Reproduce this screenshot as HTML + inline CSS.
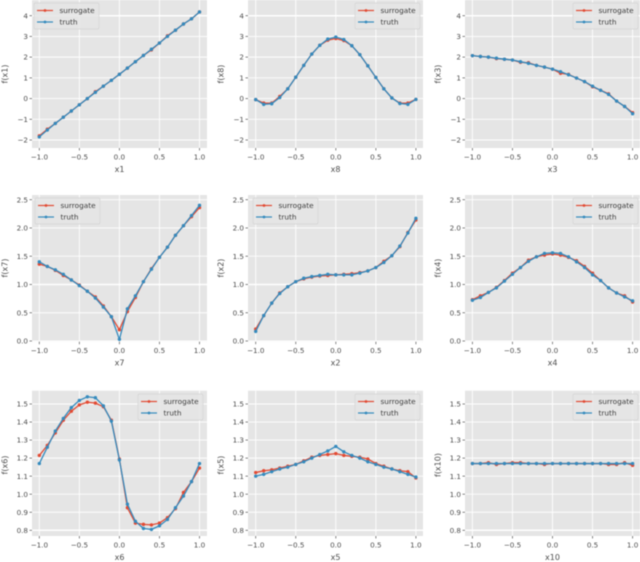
<!DOCTYPE html>
<html>
<head>
<meta charset="utf-8">
<title>Surrogate vs truth partial dependence</title>
<style>
html,body{margin:0;padding:0;background:#fff;width:640px;height:562px;overflow:hidden}
svg{display:block;filter:blur(0.4px)}
text{font-family:"DejaVu Sans","Liberation Sans",sans-serif;fill:#4d4d4d}
</style>
</head>
<body>
<svg id="chart" xmlns="http://www.w3.org/2000/svg" width="640" height="562" viewBox="0 0 640 562"></svg>
<script>
const xGrid = [-1,-0.9,-0.8,-0.7,-0.6,-0.5,-0.4,-0.3,-0.2,-0.1,0,0.1,0.2,0.3,0.4,0.5,0.6,0.7,0.8,0.9,1];
const xTickLabels = ['-1.0','-0.5','0.0','0.5','1.0'];
const yTicksRow1 = ['-2','-1','0','1','2','3','4'];
const yTicksRow2 = ['0.0','0.5','1.0','1.5','2.0','2.5'];
const yTicksRow3 = ['0.8','0.9','1.0','1.1','1.2','1.3','1.4','1.5'];

const truthX1 = [-1.85,-1.52,-1.2,-0.9,-0.6,-0.3,0,0.3,0.6,0.88,1.17,1.47,1.78,2.08,2.38,2.68,3,3.3,3.6,3.85,4.18];
const surrogateX1 = [-1.8,-1.48,-1.2,-0.9,-0.6,-0.3,0,0.33,0.6,0.88,1.17,1.47,1.78,2.08,2.35,2.68,3.03,3.3,3.6,3.85,4.18];
const truthX8 = [-0.05,-0.28,-0.25,0.05,0.47,1.03,1.6,2.15,2.57,2.87,2.97,2.85,2.55,2.12,1.58,1.02,0.47,0.03,-0.24,-0.28,-0.04];
const surrogateX8 = [-0.05,-0.22,-0.22,0.1,0.47,1.03,1.6,2.15,2.57,2.82,2.9,2.8,2.55,2.12,1.58,1.02,0.47,0.03,-0.22,-0.22,-0.04];
const truthX3 = [2.07,2.03,2,1.95,1.9,1.86,1.78,1.7,1.6,1.52,1.42,1.3,1.15,0.99,0.82,0.6,0.4,0.2,-0.12,-0.38,-0.73];
const surrogateX3 = [2.07,2.03,2,1.93,1.9,1.86,1.75,1.73,1.6,1.52,1.42,1.22,1.17,0.99,0.82,0.57,0.4,0.23,-0.12,-0.38,-0.68];
const truthX7 = [1.4,1.32,1.26,1.18,1.08,0.98,0.88,0.76,0.6,0.43,0.03,0.57,0.8,1.05,1.27,1.48,1.66,1.87,2.04,2.22,2.4];
const surrogateX7 = [1.36,1.32,1.25,1.16,1.08,0.99,0.88,0.78,0.62,0.43,0.2,0.52,0.77,1.05,1.28,1.48,1.66,1.87,2.04,2.2,2.36];
const truthX2 = [0.17,0.45,0.67,0.84,0.96,1.05,1.11,1.14,1.16,1.18,1.17,1.17,1.17,1.2,1.24,1.3,1.39,1.51,1.68,1.91,2.17];
const surrogateX2 = [0.21,0.45,0.67,0.85,0.96,1.05,1.1,1.13,1.15,1.16,1.17,1.18,1.19,1.21,1.24,1.3,1.41,1.51,1.67,1.92,2.14];
const truthX4 = [0.72,0.77,0.86,0.94,1.06,1.18,1.3,1.41,1.49,1.55,1.56,1.55,1.49,1.4,1.3,1.17,1.07,0.94,0.85,0.78,0.71];
const surrogateX4 = [0.73,0.8,0.86,0.95,1.07,1.2,1.3,1.43,1.49,1.52,1.54,1.52,1.48,1.42,1.32,1.2,1.07,0.94,0.85,0.8,0.69];
const truthX6 = [1.17,1.26,1.35,1.42,1.48,1.52,1.54,1.535,1.49,1.405,1.19,0.945,0.85,0.81,0.805,0.825,0.86,0.925,0.99,1.07,1.17];
const surrogateX6 = [1.215,1.27,1.34,1.41,1.46,1.495,1.51,1.505,1.485,1.41,1.195,0.925,0.84,0.833,0.83,0.84,0.87,0.92,1.01,1.07,1.145];
const truthX5 = [1.1,1.11,1.125,1.14,1.15,1.165,1.18,1.2,1.22,1.24,1.265,1.235,1.215,1.2,1.18,1.165,1.15,1.14,1.125,1.11,1.095];
const surrogateX5 = [1.12,1.13,1.135,1.145,1.155,1.165,1.185,1.205,1.215,1.22,1.225,1.215,1.21,1.205,1.195,1.17,1.155,1.14,1.13,1.125,1.09];
const truthX10 = [1.17,1.17,1.17,1.17,1.17,1.17,1.17,1.17,1.17,1.17,1.17,1.17,1.17,1.17,1.17,1.17,1.17,1.17,1.17,1.17,1.17];
const surrogateX10 = [1.17,1.17,1.175,1.165,1.17,1.175,1.175,1.17,1.17,1.165,1.17,1.17,1.17,1.17,1.17,1.17,1.17,1.165,1.165,1.175,1.16];

const NS = 'http://www.w3.org/2000/svg';
const svg = document.getElementById('chart');
const SURROGATE = '#E24A33';
const TRUTH = '#348ABD';

function make(parent, tag, props, txt) {
  const el = document.createElementNS(NS, tag);
  for (const k in props) el.setAttribute(k, props[k]);
  if (txt !== undefined) el.textContent = txt;
  parent.appendChild(el);
  return el;
}

function drawSeries(g, xs, ys, sx, sy, color, width, clipId) {
  const pts = xs.map((x, i) => sx(x).toFixed(2) + ',' + sy(ys[i]).toFixed(2)).join(' ');
  const line = make(g, 'polyline', {points: pts, fill: 'none', stroke: color, 'stroke-width': width, 'clip-path': 'url(#' + clipId + ')'});
  
  
  xs.forEach((x, i) => {
    const dot = make(g, 'circle', {cx: sx(x).toFixed(2), cy: sy(ys[i]).toFixed(2), r: 1.7, fill: color});
    
    
  });
}

function drawLegend(g, lx, ly, row1, row2) {
  const box = make(g, 'rect', {x: lx, y: ly, width: 65, height: 26, rx: 1.5, fill: '#e5e5e5', 'fill-opacity': 0.85, stroke: '#d4d4d4', 'stroke-width': 0.7});
  
  
  [['surrogate', SURROGATE, row1], ['truth', TRUTH, row2]].forEach(e => {
    const key = make(g, 'line', {x1: lx + 3, x2: lx + 19, y1: e[2], y2: e[2], stroke: e[1], 'stroke-width': 1.2});
    
    
    const mark = make(g, 'circle', {cx: lx + 11, cy: e[2], r: 1.4, fill: e[1]});
    
    
    const label = make(g, 'text', {x: lx + 25.5, y: e[2] + 2.6, 'font-size': 7.3, style: 'fill:#3c3c3c'}, e[0]);
    
    
  });
}

function drawPanel(p) {
  const g = make(svg, 'g', {});
  
  
  const sx = v => p.x0 + (v + 1) / 2 * 160.2;
  const sy = v => p.yA + (v - p.vA) / (p.vB - p.vA) * (p.yB - p.yA);
  const clipId = 'clip-' + p.name;
  const clip = make(g, 'clipPath', {id: clipId});
  make(clip, 'rect', {x: p.left, y: p.top, width: 175, height: p.bottom - p.top});
  const bg = make(g, 'rect', {x: p.left, y: p.top, width: 175, height: p.bottom - p.top, fill: '#e5e5e5'});
  
  

  xTickLabels.forEach(t => {
    const v = parseFloat(t), x = sx(v);
    const grid = make(g, 'line', {x1: x, x2: x, y1: p.top, y2: p.bottom, stroke: '#fff', 'stroke-width': 0.9});
    
    
    const tick = make(g, 'line', {x1: x, x2: x, y1: p.bottom, y2: p.bottom + 2.5, stroke: '#555', 'stroke-width': 0.7});
    
    
    const label = make(g, 'text', {x: x, y: p.bottom + 11.5, 'font-size': 7.2, 'text-anchor': 'middle'}, t.replace('-', '\u2212'));
    
    
  });
  p.yTicks.forEach(t => {
    const v = parseFloat(t), y = sy(v);
    const grid = make(g, 'line', {x1: p.left, x2: p.left + 175, y1: y, y2: y, stroke: '#fff', 'stroke-width': t === p.bright ? 1.5 : 0.9});
    
    
    const tick = make(g, 'line', {x1: p.left - 2.5, x2: p.left, y1: y, y2: y, stroke: '#555', 'stroke-width': 0.7});
    
    
    const label = make(g, 'text', {x: p.left - 4, y: y + 2.6, 'font-size': 7.2, 'text-anchor': 'end'}, t.replace('-', '\u2212'));
    
    
  });

  drawSeries(g, xGrid, p.surrogate, sx, sy, SURROGATE, 1.3, clipId);
  drawSeries(g, xGrid, p.truth, sx, sy, TRUTH, 1.3, clipId);
  drawLegend(g, p.legendX, p.legendY, p.legendY + 7.5, p.legendY + 19);

  const xl = make(g, 'text', {x: p.left + 87.5, y: p.bottom + 24, 'font-size': 8, 'text-anchor': 'middle'}, p.name);
  
  
  const ylx = p.left - 24.5, yly = p.labelY;
  const yl = make(g, 'text', {x: ylx, y: yly, 'font-size': 8, 'text-anchor': 'middle', transform: 'rotate(-90 ' + ylx + ' ' + yly + ')'}, 'f(' + p.name + ')');
  
  
}

const row1 = {top: 0, bottom: 148, yA: 140, vA: -2, yB: 15.7, vB: 4, yTicks: yTicksRow1, bright: '4', legendY: 3, labelY: 74};
const row2 = {top: 195, bottom: 341.7, yA: 341, vA: 0, yB: 199.7, vB: 2.5, yTicks: yTicksRow2, bright: '1.0', legendY: 198, labelY: 268};
const row3 = {top: 390.7, bottom: 536, yA: 530.3, vA: 0.8, yB: 404, vB: 1.5, yTicks: yTicksRow3, bright: '0.8', legendY: 394, labelY: 465};
const col1 = {left: 32, x0: 39.3};
const col2 = {left: 248, x0: 255.7};
const col3 = {left: 465, x0: 472.4};

drawPanel({...row1, ...col1, name: 'x1', truth: truthX1, surrogate: surrogateX1, legendX: 34});
drawPanel({...row1, ...col2, name: 'x8', truth: truthX8, surrogate: surrogateX8, legendX: 355});
drawPanel({...row1, ...col3, name: 'x3', truth: truthX3, surrogate: surrogateX3, legendX: 573});
drawPanel({...row2, ...col1, name: 'x7', truth: truthX7, surrogate: surrogateX7, legendX: 35});
drawPanel({...row2, ...col2, name: 'x2', truth: truthX2, surrogate: surrogateX2, legendX: 253});
drawPanel({...row2, ...col3, name: 'x4', truth: truthX4, surrogate: surrogateX4, legendX: 573});
drawPanel({...row3, ...col1, name: 'x6', truth: truthX6, surrogate: surrogateX6, legendX: 138});
drawPanel({...row3, ...col2, name: 'x5', truth: truthX5, surrogate: surrogateX5, legendX: 355});
drawPanel({...row3, ...col3, name: 'x10', truth: truthX10, surrogate: surrogateX10, legendX: 573});
</script>
</body>
</html>
